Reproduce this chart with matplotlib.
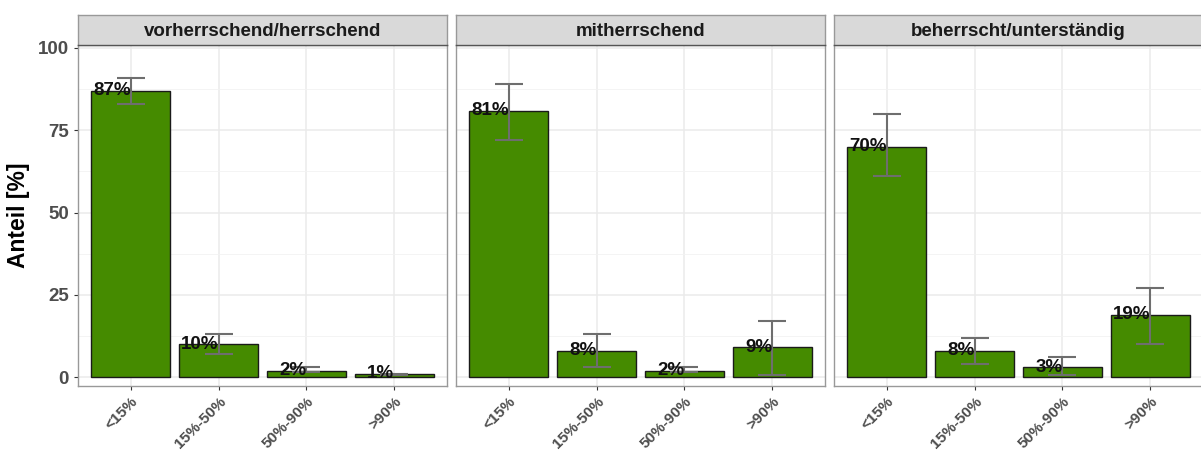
import numpy as np
import matplotlib
matplotlib.use('Agg')
import matplotlib.pyplot as plt

plt.rcParams['font.family'] = ['Liberation Sans', 'DejaVu Sans']

### Data
categories = ['<15%', '15%-50%', '50%-90%', '>90%']
panels = ['vorherrschend/herrschend', 'mitherrschend', 'beherrscht/unterständig']
share_vh = [87, 10, 2, 1]
share_mit = [81, 8, 2, 9]
share_beh = [70, 8, 3, 19]
low_vh = [83, 7, 1.5, 0.5]
high_vh = [91, 13, 3, 1]
low_mit = [72, 3, 1.5, 0.5]
high_mit = [89, 13, 3, 17]
low_beh = [61, 4, 0.5, 10]
high_beh = [80, 12, 6, 27]
y_ticks = [0, 25, 50, 75, 100]

shares = [share_vh, share_mit, share_beh]
lows = [low_vh, low_mit, low_beh]
highs = [high_vh, high_mit, high_beh]

W, H = 1201, 453
fig = plt.figure(figsize=(W / 100, H / 100), dpi=100)

lefts = [78, 456, 834]
pw = 369
ax_bottom, ax_top = 386, 45
strip_top = 15
x = np.arange(len(categories))

for i, name in enumerate(panels):
    ax = fig.add_axes([lefts[i] / W, 1 - ax_bottom / H, pw / W, (ax_bottom - ax_top) / H])
    ax.set_xlim(-0.6, 3.6)
    ax.set_ylim(-2.7, 100.9)
    ax.set_yticks(y_ticks)
    ax.set_yticks([12.5, 37.5, 62.5, 87.5], minor=True)
    ax.grid(True, which='major', color='#ebebeb', lw=1.1)
    ax.grid(True, which='minor', axis='y', color='#f2f2f2', lw=0.6)
    ax.tick_params(axis='y', which='minor', length=0)
    ax.set_axisbelow(True)
    ax.set_xticks(x)
    ax.set_xticklabels(categories, rotation=45, ha='right', rotation_mode='anchor',
                       fontsize=11, fontweight='bold', color='#4d4d4d')
    ax.tick_params(axis='x', length=3, color='#333333', pad=3)
    ax.tick_params(axis='y', which='major', length=3, color='#333333', labelsize=13.5,
                   labelcolor='#4d4d4d')
    for lab in ax.get_yticklabels():
        lab.set_fontweight('bold')
    for sp in ax.spines.values():
        sp.set_color('#999999')
        sp.set_linewidth(1.0)
    if i > 0:
        ax.set_yticklabels([])
        ax.tick_params(axis='y', which='major', length=0)
    else:
        ax.set_ylabel('Anteil [%]', fontsize=16.5, fontweight='bold', labelpad=6)

    vals = np.array(shares[i])
    ax.bar(x, vals, width=0.9, color='#458B00', edgecolor='#1a1a1a', linewidth=1.0, zorder=2)
    lo = np.array(lows[i])
    hi = np.array(highs[i])
    ax.errorbar(x, vals, yerr=[vals - lo, hi - vals], fmt='none', ecolor='#6e6e6e',
                elinewidth=1.5, capsize=10, capthick=1.5, zorder=3)
    for xi, v in zip(x, vals):
        ax.text(xi, v, '%d%%' % v, ha='right', va='center', fontsize=13.5,
                fontweight='bold', color='#111111', zorder=4)

    # strip
    sax = fig.add_axes([lefts[i] / W, 1 - ax_top / H, pw / W, (ax_top - strip_top) / H])
    sax.set_facecolor('#d9d9d9')
    sax.set_xticks([])
    sax.set_yticks([])
    for sp in sax.spines.values():
        sp.set_color('#999999')
        sp.set_linewidth(1.0)
    sax.spines['bottom'].set_color('#555555')
    sax.text(0.5, 0.44, name, transform=sax.transAxes, ha='center', va='center',
             fontsize=13.5, fontweight='bold', color='#1a1a1a')

fig.savefig('out.png', dpi=100)
